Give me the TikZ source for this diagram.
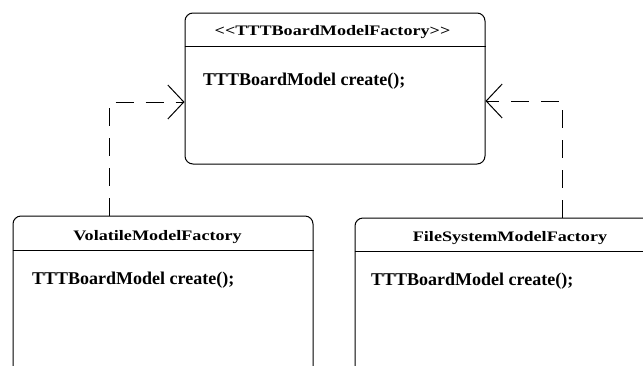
\documentclass[tikz,border=0pt]{standalone}
\usepackage{fontspec}
\usepackage{tikz}
\usetikzlibrary{arrows.meta}

\setmainfont{Liberation Serif}
\newfontfamily\namefont[FakeStretch=1.25]{Liberation Serif}

\tikzset{
    classbox/.style={draw, line width=1pt, rounded corners=8pt, inner sep=0pt},
    classname/.style={font=\namefont\fontsize{14.5}{17}\selectfont\bfseries, inner sep=0pt, anchor=base},
    method/.style={font=\fontsize{18}{21}\selectfont\bfseries, inner sep=0pt, anchor=base west},
    realizes/.style={line width=1pt, dash pattern=on 18pt off 12pt,
        -{Straight Barb[length=16pt, width=34pt, line width=1pt]}}
}

\begin{document}
\begin{tikzpicture}[x=1pt, y=-1pt]
        \useasboundingbox (0,0) rectangle (643,365);
        \clip (0,0) rectangle (643,365);

        % Draw the class boxes
        \node[classbox, minimum width=300pt, minimum height=151pt] (factory) at (335,88.5) {};
        \node[classbox, minimum width=300pt, minimum height=160pt] (volatile) at (163,296) {};
        \node[classbox, minimum width=310pt, minimum height=160pt] (filesystem) at (510,298) {};

        % Draw the header lines
        \draw[line width=1pt] ([yshift=-34pt]factory.north west) -- ([yshift=-34pt]factory.north east);
        \draw[line width=1pt] ([yshift=-35pt]volatile.north west) -- ([yshift=-35pt]volatile.north east);
        \draw[line width=1pt] ([yshift=-34pt]filesystem.north west) -- ([yshift=-34pt]filesystem.north east);

        % Label the classes
        \node[classname] (factoryname) at (332.5,35) {<{}<TTTBoardModelFactory>{}>};
        \node[classname] (volatilename) at (157.5,240) {VolatileModelFactory};
        \node[classname] (filesystemname) at (510,241) {FileSystemModelFactory};

        % Write the methods
        \node[method] (factorycreate) at (203,85.5) {TTTBoardModel create();};
        \node[method] (volatilecreate) at (32,284) {TTTBoardModel create();};
        \node[method] (filesystemcreate) at (371,285) {TTTBoardModel create();};

        % Draw the dashed realization arrows
        \draw[realizes] ([xshift=-54pt]volatile.north) |- ([yshift=-13.5pt]factory.west);
        \draw[realizes] ([xshift=52pt]filesystem.north) |- ([yshift=-12.5pt]factory.east);
    \end{tikzpicture}
\end{document}
